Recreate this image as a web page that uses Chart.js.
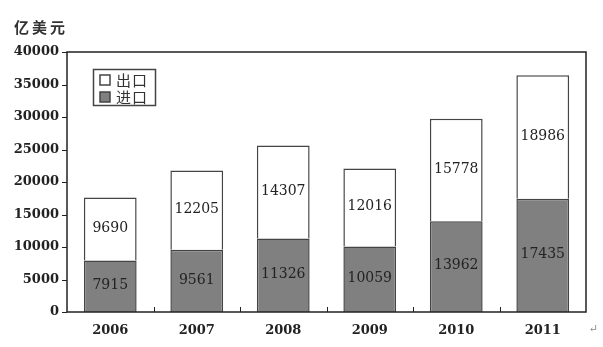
<!DOCTYPE html>
<html>
<head>
<meta charset="utf-8">
<script src="https://cdn.jsdelivr.net/npm/chart.js@4/dist/chart.umd.min.js"></script>
<style>
  html, body { margin: 0; padding: 0; background: #fff; }
  #wrap { position: relative; width: 603px; height: 347px; }
</style>
</head>
<body>
<div id="wrap"><canvas id="chart" width="603" height="347"></canvas></div>
<script>
// données
const years = ["2006", "2007", "2008", "2009", "2010", "2011"];
const imports = [7915, 9561, 11326, 10059, 13962, 17435];
const exports = [9690, 12205, 14307, 12016, 15778, 18986];
const yTicks = [0, 5000, 10000, 15000, 20000, 25000, 30000, 35000, 40000];

const serif = "'DejaVu Serif', 'Liberation Serif', serif";
const cjk = "'Noto Sans CJK SC', sans-serif";

// labels dans les barres + cadre + légende
const decor = {
  id: "decor",
  afterDatasetsDraw(chart) {
    const ctx = chart.ctx;
    ctx.save();
    ctx.font = "14px " + serif;
    ctx.fillStyle = "#222";
    ctx.textAlign = "center";
    ctx.textBaseline = "middle";
    chart.data.datasets.forEach((ds, i) => {
      chart.getDatasetMeta(i).data.forEach((bar, j) => {
        ctx.fillText(ds.data[j], bar.x, (bar.y + bar.base) / 2 - 1);
      });
    });
    ctx.restore();
  },
  afterDraw(chart) {
    const ctx = chart.ctx;
    const a = chart.chartArea;
    const x = chart.scales.x;
    const y = chart.scales.y;
    ctx.save();
    ctx.strokeStyle = "#222";
    ctx.lineWidth = 1.5;
    ctx.strokeRect(a.left, a.top, a.right - a.left, a.bottom - a.top);
    // petits traits entre catégories
    ctx.lineWidth = 1;
    for (let i = 1; i < years.length; i++) {
      const px = Math.round((x.getPixelForValue(i - 1) + x.getPixelForValue(i)) / 2) + 0.5;
      ctx.beginPath();
      ctx.moveTo(px, a.bottom);
      ctx.lineTo(px, a.bottom - 5);
      ctx.stroke();
    }
    // traits de l'axe Y
    yTicks.forEach((v) => {
      const py = Math.round(y.getPixelForValue(v)) + 0.5;
      ctx.beginPath();
      ctx.moveTo(a.left - 5, py);
      ctx.lineTo(a.left, py);
      ctx.stroke();
    });
    // légende
    ctx.strokeStyle = "#444";
    ctx.lineWidth = 1.5;
    ctx.strokeRect(93.5, 69.5, 62, 36);
    ctx.fillStyle = "#fff";
    ctx.fillRect(100, 75, 10, 10);
    ctx.strokeRect(100, 75, 10, 10);
    ctx.fillStyle = "#808080";
    ctx.fillRect(100, 92, 10, 10);
    ctx.strokeRect(100, 92, 10, 10);
    ctx.fillStyle = "#333";
    ctx.font = "15px " + cjk;
    ctx.textAlign = "left";
    ctx.textBaseline = "middle";
    ["出", "口"].forEach((c, k) => ctx.fillText(c, 116 + k * 16, 80));
    ["进", "口"].forEach((c, k) => ctx.fillText(c, 116 + k * 16, 97));
    // unité
    ctx.font = "bold 15px " + cjk;
    ["亿", "美", "元"].forEach((c, k) => ctx.fillText(c, 14 + k * 18, 27));
    ctx.font = "11px " + serif;
    ctx.fillStyle = "#888";
    ctx.fillText("↵", 589, 329);
    ctx.restore();
  }
};

new Chart(document.getElementById("chart"), {
  type: "bar",
  data: {
    labels: years,
    datasets: [
      {
        label: "进口",
        data: imports,
        backgroundColor: "#808080",
        borderColor: "#444",
        borderWidth: 1.5,
        categoryPercentage: 1,
        barPercentage: 0.61,
      },
      {
        label: "出口",
        data: exports,
        backgroundColor: "#ffffff",
        borderColor: "#444",
        borderWidth: 1.5,
        categoryPercentage: 1,
        barPercentage: 0.61,
      },
    ],
  },
  options: {
    responsive: false,
    animation: false,
    layout: { padding: { top: 52, right: 17, left: 0, bottom: 0 } },
    plugins: { legend: { display: false }, tooltip: { enabled: false } },
    scales: {
      x: {
        stacked: true,
        grid: { display: false },
        border: { display: false },
        ticks: { color: "#222", font: { family: serif, size: 13, weight: "bold" }, padding: 3 },
        afterFit: (s) => { s.height = 35; },
      },
      y: {
        stacked: true,
        min: 0,
        max: 40000,
        afterBuildTicks: (s) => { s.ticks = yTicks.map((v) => ({ value: v })); },
        grid: { display: false },
        border: { display: false },
        ticks: {
          color: "#222",
          font: { family: serif, size: 13, weight: "bold" },
          padding: 0,
          callback: (v) => String(v),
        },
        afterFit: (s) => { s.width = 67; },
      },
    },
  },
  plugins: [decor],
});
</script>
</body>
</html>
